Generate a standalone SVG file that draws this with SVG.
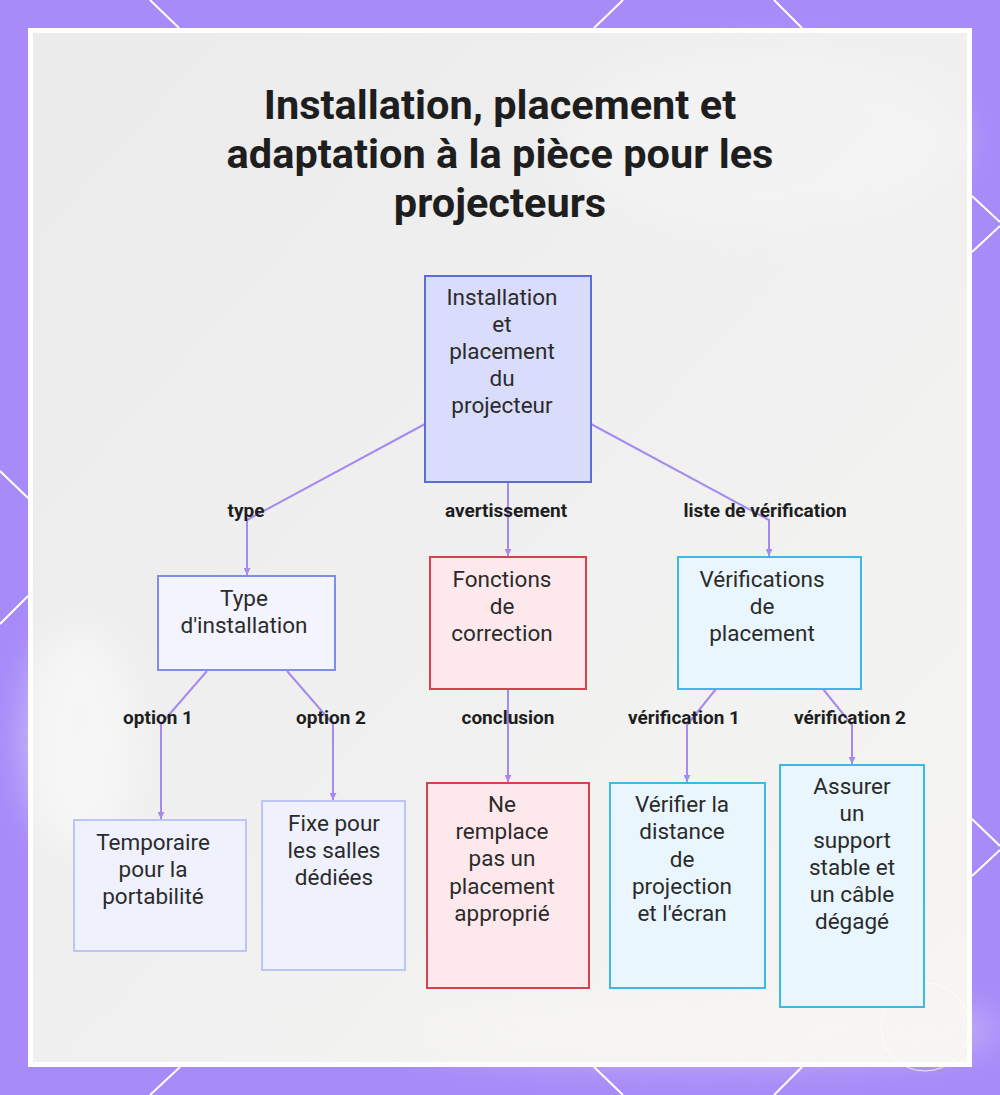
<svg xmlns="http://www.w3.org/2000/svg" width="1000" height="1095" viewBox="0 0 1000 1095">
<defs>
<style>
.title{font-family:Roboto,"Liberation Sans",sans-serif;font-weight:700;font-size:41.5px;fill:#1e1e1e;text-anchor:middle}
.nt{font-family:Roboto,"Liberation Sans",sans-serif;font-size:22.5px;fill:#2b2b2b;text-anchor:middle}
.lbl{font-family:Roboto,"Liberation Sans",sans-serif;font-weight:700;font-size:19px;fill:#1e1e1e;text-anchor:middle}
.edge{fill:none;stroke:#a58af0;stroke-width:2;stroke-linejoin:round;marker-end:url(#arr)}
.deco{stroke:#ffffff;stroke-width:2;fill:none}
.root{fill:#d9dcfb;stroke:#5b6dd8;stroke-width:2}
.type{fill:#f3f4fe;stroke:#7e8fe6;stroke-width:2}
.leafA{fill:#eff1fd;stroke:#bcc5f4;stroke-width:2}
.red{fill:#fde9ec;stroke:#d7404d;stroke-width:2}
.blue{fill:#e9f6fd;stroke:#3cb9e6;stroke-width:2}
</style>
<marker id="arr" markerWidth="7" markerHeight="7" refX="7" refY="3.5" orient="auto" markerUnits="userSpaceOnUse">
<path d="M0,0 L7,3.5 L0,7 z" fill="#a58af0"/>
</marker>
<linearGradient id="bg" x1="0" y1="0" x2="1" y2="1">
<stop offset="0" stop-color="#ebebeb"/>
<stop offset="0.5" stop-color="#f0f0f0"/>
<stop offset="1" stop-color="#f6f5f2"/>
</linearGradient>
<filter id="blur" x="-50%" y="-50%" width="200%" height="200%"><feGaussianBlur stdDeviation="18"/></filter>
</defs>
<rect x="0" y="0" width="1000" height="1095" fill="#a78bf9"/>
<g id="decor">
<line class="deco" x1="150" y1="0" x2="179" y2="28"/>
<line class="deco" x1="623" y1="0" x2="594" y2="28"/>
<line class="deco" x1="774" y1="0" x2="802" y2="28"/>
<line class="deco" x1="180" y1="1067" x2="150" y2="1095"/>
<line class="deco" x1="594" y1="1067" x2="623" y2="1095"/>
<line class="deco" x1="802" y1="1067" x2="774" y2="1095"/>
<line class="deco" x1="0" y1="471" x2="28" y2="498"/>
<line class="deco" x1="28" y1="596" x2="0" y2="624"/>
<line class="deco" x1="972" y1="196" x2="1000" y2="222"/>
<line class="deco" x1="1000" y1="226" x2="972" y2="252"/>
<line class="deco" x1="972" y1="819" x2="1000" y2="846"/>
<line class="deco" x1="1000" y1="850" x2="972" y2="876"/>
</g>
<rect x="28" y="28" width="944" height="1039" fill="#ffffff"/>
<rect x="33" y="33" width="934" height="1029" fill="url(#bg)"/>
<g filter="url(#blur)" opacity="0.45">
<ellipse cx="80" cy="740" rx="55" ry="110" fill="#ffffff"/>
<ellipse cx="700" cy="1030" rx="300" ry="30" fill="#faf8f4"/>
<ellipse cx="760" cy="140" rx="200" ry="90" fill="#f7f7f7"/>
</g>
<circle cx="925" cy="1027" r="44" fill="none" stroke="#ffffff" stroke-width="1" opacity="0.8"/>
<g id="title">
<text class="title" x="500" y="119">Installation, placement et</text>
<text class="title" x="500" y="168">adaptation à la pièce pour les</text>
<text class="title" x="500" y="217">projecteurs</text>
</g>
<g id="connectors">
<path class="edge" d="M425,424 L247,520 L247,575"/>
<path class="edge" d="M508,482 L508,556"/>
<path class="edge" d="M591,424 L769,520 L769,556"/>
<path class="edge" d="M207,671 L161,724 L161,819"/>
<path class="edge" d="M287,671 L333,724 L333,800"/>
<path class="edge" d="M508,689 L508,782"/>
<path class="edge" d="M716,689 L687,725 L687,782"/>
<path class="edge" d="M823,689 L852,725 L852,764"/>
<text class="lbl" x="246" y="517">type</text>
<text class="lbl" x="506" y="517">avertissement</text>
<text class="lbl" x="765" y="517">liste de vérification</text>
<text class="lbl" x="158" y="724">option 1</text>
<text class="lbl" x="331" y="724">option 2</text>
<text class="lbl" x="508" y="724">conclusion</text>
<text class="lbl" x="684" y="724">vérification 1</text>
<text class="lbl" x="850" y="724">vérification 2</text>
</g>
<g id="n-root">
<rect class="root" x="425" y="276" width="166" height="206"/>
<text class="nt" x="502" y="305">Installation</text>
<text class="nt" x="502" y="332">et</text>
<text class="nt" x="502" y="359">placement</text>
<text class="nt" x="502" y="386">du</text>
<text class="nt" x="502" y="413">projecteur</text>
</g>
<g id="n-type">
<rect class="type" x="158" y="576" width="177" height="94"/>
<text class="nt" x="244" y="606">Type</text>
<text class="nt" x="244" y="633">d'installation</text>
</g>
<g id="n-fonctions">
<rect class="red" x="430" y="557" width="156" height="132"/>
<text class="nt" x="502" y="587">Fonctions</text>
<text class="nt" x="502" y="614">de</text>
<text class="nt" x="502" y="641">correction</text>
</g>
<g id="n-verifs">
<rect class="blue" x="678" y="557" width="183" height="132"/>
<text class="nt" x="762" y="587">Vérifications</text>
<text class="nt" x="762" y="614">de</text>
<text class="nt" x="762" y="641">placement</text>
</g>
<g id="n-temporaire">
<rect class="leafA" x="74" y="820" width="172" height="131"/>
<text class="nt" x="153" y="850">Temporaire</text>
<text class="nt" x="153" y="877">pour la</text>
<text class="nt" x="153" y="904">portabilité</text>
</g>
<g id="n-fixe">
<rect class="leafA" x="262" y="801" width="143" height="169"/>
<text class="nt" x="334" y="831">Fixe pour</text>
<text class="nt" x="334" y="858">les salles</text>
<text class="nt" x="334" y="885">dédiées</text>
</g>
<g id="n-neremplace">
<rect class="red" x="427" y="783" width="162" height="205"/>
<text class="nt" x="502" y="812">Ne</text>
<text class="nt" x="502" y="839">remplace</text>
<text class="nt" x="502" y="866">pas un</text>
<text class="nt" x="502" y="894">placement</text>
<text class="nt" x="502" y="921">approprié</text>
</g>
<g id="n-verifier">
<rect class="blue" x="610" y="783" width="155" height="205"/>
<text class="nt" x="682" y="812">Vérifier la</text>
<text class="nt" x="682" y="839">distance</text>
<text class="nt" x="682" y="867">de</text>
<text class="nt" x="682" y="894">projection</text>
<text class="nt" x="682" y="921">et l'écran</text>
</g>
<g id="n-assurer">
<rect class="blue" x="780" y="765" width="144" height="242"/>
<text class="nt" x="852" y="794">Assurer</text>
<text class="nt" x="852" y="821">un</text>
<text class="nt" x="852" y="848">support</text>
<text class="nt" x="852" y="875">stable et</text>
<text class="nt" x="852" y="902">un câble</text>
<text class="nt" x="852" y="929">dégagé</text>
</g>
</svg>
